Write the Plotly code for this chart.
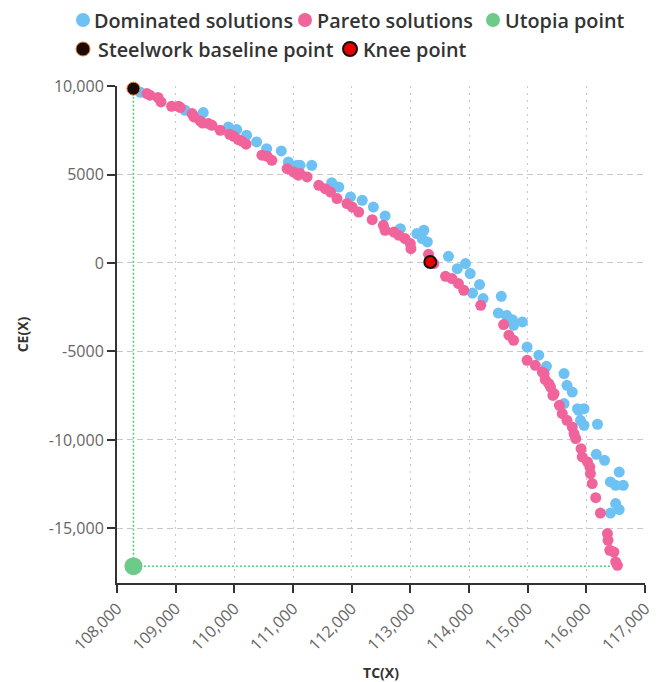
import plotly.graph_objects as go

# ---- data ----
dominated_tc = [108400, 109160, 109470, 109360, 109900, 110040, 110210, 110380, 110550, 110800,
                110920, 111070, 111120, 111320, 111660, 111780, 111980, 112180, 112370, 112570,
                112830, 113110, 113230, 113290, 113200, 113650, 113800, 113940, 114020, 114180,
                114060, 114240, 114550, 114500, 114640, 114740, 114910, 114760, 114990, 115190,
                115320, 115620, 115670, 115760, 115850, 115620, 115870, 115960, 115900, 115960,
                116190, 116170, 116310, 116560, 116410, 116500, 116630, 116500, 116560, 116410]
dominated_ce = [9640, 8630, 8500, 8220, 7680, 7540, 7220, 6840, 6460, 6330,
                5710, 5520, 5520, 5520, 4540, 4290, 3730, 3540, 3160, 2660,
                1940, 1660, 1850, 1190, 1380, 380, -320, -30, -600, -1220,
                -1700, -2010, -1880, -2830, -2960, -3200, -3330, -3520, -4750, -5210,
                -5840, -6250, -6910, -7290, -8230, -7940, -8320, -8230, -8890, -9170,
                -9110, -10810, -11150, -11810, -12370, -12560, -12560, -13590, -13930, -14130]

pareto_tc = [108510, 108560, 108700, 108750, 108930, 109050, 109080, 109280, 109310, 109420,
             109460, 109560, 109620, 109760, 109920, 109990, 110070, 110130, 110200, 110470,
             110560, 110640, 110900, 111010, 111090, 111120, 111240, 111440, 111550, 111640,
             111750, 111920, 112010, 112120, 112350, 112540, 112570, 112720, 112800, 112910,
             113000, 113010, 113310, 113400, 113600, 113710, 113820, 113910, 114200, 114590,
             114680, 114760, 114990, 115130, 115250, 115280, 115300, 115360, 115390, 115450,
             115430, 115540, 115590, 115670, 115760, 115790, 115820, 115910, 115930, 116020,
             116060, 116070, 116100, 116160, 116240, 116360, 116370, 116400, 116470, 116500,
             116530]
pareto_ce = [9570, 9480, 9350, 9100, 8850, 8850, 8780, 8440, 8250, 8020,
             7910, 7880, 7780, 7500, 7270, 7160, 6970, 6880, 6710, 6090,
             6030, 5800, 5330, 5140, 4960, 5050, 4860, 4390, 4200, 4010,
             3640, 3360, 3160, 2880, 2450, 2130, 1850, 1750, 1570, 1380,
             1100, 810, 490, -30, -750, -880, -1160, -1540, -2390, -3480,
             -4080, -4370, -5500, -5780, -6160, -6250, -6590, -6810, -7010, -7380,
             -7480, -8040, -8510, -8890, -9270, -9640, -9920, -10490, -10960, -11240,
             -11530, -11900, -12460, -13260, -14130, -15290, -15670, -16230, -16330, -16890,
             -17080]

utopia_tc = [108280]
utopia_ce = [-17130]
baseline_tc = [108280]
baseline_ce = [9850]
knee_tc = [113340]
knee_ce = [60]

x_ticks = [108000, 109000, 110000, 111000, 112000, 113000, 114000, 115000, 116000, 117000]
x_tick_text = ["108,000", "109,000", "110,000", "111,000", "112,000", "113,000",
               "114,000", "115,000", "116,000", "117,000"]
y_ticks = [10000, 5000, 0, -5000, -10000, -15000]
y_tick_text = ["10,000", "5000", "0", "-5000", "-10,000", "-15,000"]

series_names = ["Dominated solutions", "Pareto solutions", "Utopia point",
                "Steelwork baseline point", "Knee point"]

FONT = "Open Sans"
C_DOM = "#6ec1f3"
C_PAR = "#f0649b"
C_UTO = "#6dcb8a"
C_BASE = "#1e0900"
C_BASE_LINE = "#d9823c"
C_KNEE = "#e80000"

# page body has an 8px margin; size the figure so it fits the 662x682 window
OFF = 8
W, H = 662 - OFF, 682 - OFF
ML, MT = 117 - OFF, 86 - OFF
PW, PH = 528, 497
MR = W - ML - PW
MB = H - MT - PH

fig = go.Figure()

# guide lines baseline -> utopia -> max TC
fig.add_trace(go.Scatter(
    x=[baseline_tc[0], utopia_tc[0], max(pareto_tc)],
    y=[baseline_ce[0], utopia_ce[0], utopia_ce[0]],
    mode="lines", line=dict(color="#5cc878", width=1.6, dash="2px,2px"),
    showlegend=False, hoverinfo="skip"))

fig.add_trace(go.Scatter(
    x=dominated_tc, y=dominated_ce, mode="markers", name=series_names[0],
    marker=dict(color=C_DOM, size=11)))
fig.add_trace(go.Scatter(
    x=pareto_tc, y=pareto_ce, mode="markers", name=series_names[1],
    marker=dict(color=C_PAR, size=11)))
fig.add_trace(go.Scatter(
    x=utopia_tc, y=utopia_ce, mode="markers", name=series_names[2],
    marker=dict(color=C_UTO, size=18)))
fig.add_trace(go.Scatter(
    x=baseline_tc, y=baseline_ce, mode="markers", name=series_names[3],
    marker=dict(color=C_BASE, size=13, line=dict(color=C_BASE_LINE, width=1))))
fig.add_trace(go.Scatter(
    x=knee_tc, y=knee_ce, mode="markers", name=series_names[4],
    marker=dict(color=C_KNEE, size=12, line=dict(color="#111111", width=2))))

fig.update_traces(cliponaxis=False, showlegend=False)

# ---- custom two-row legend (window pixel positions -> paper coords) ----
def px_x(px):
    return (px - OFF - ML) / PW

def px_y(py):
    return (MT + PH - (py - OFF)) / PH

legend_items = [
    # (marker cx, text x, y, color, line color, line width)
    (83, 92, 20, C_DOM, None, 0),
    (305, 315, 20, C_PAR, None, 0),
    (493, 503, 20, C_UTO, None, 0),
    (83, 96, 49, C_BASE, C_BASE_LINE, 1),
    (350, 361, 49, C_KNEE, "#111111", 2),
]
shapes = []
annotations = []
for name, (cx, tx, cy, col, lcol, lw) in zip(series_names, legend_items):
    r = 7
    shapes.append(dict(
        type="circle", xref="paper", yref="paper",
        xsizemode="pixel", ysizemode="pixel",
        xanchor=px_x(cx), yanchor=px_y(cy),
        x0=-r, x1=r, y0=-r, y1=r,
        fillcolor=col, line=dict(color=lcol if lcol else col, width=lw if lw else 0),
        layer="above"))
    annotations.append(dict(
        text=name, xref="paper", yref="paper", x=px_x(tx), y=px_y(cy + 1),
        xanchor="left", yanchor="middle", showarrow=False,
        font=dict(family=FONT, size=19.8, color="#333", weight=600)))

fig.update_layout(
    width=W, height=H,
    margin=dict(l=ML, r=MR, t=MT, b=MB, autoexpand=False),
    paper_bgcolor="white", plot_bgcolor="white",
    font=dict(family=FONT, color="#333"),
    showlegend=False,
    shapes=shapes, annotations=annotations,
)

fig.update_xaxes(
    range=[108000, 117000], tickvals=x_ticks, ticktext=x_tick_text, tickangle=-45,
    showline=True, linecolor="#333", linewidth=2, ticks="outside", ticklen=8,
    tickcolor="#333", tickwidth=2,
    showgrid=True, gridcolor="#c8c8c8", griddash="2px,5px", gridwidth=1, zeroline=False,
    tickfont=dict(size=16, color="#666", family=FONT),
    title=dict(text="<b>TC(X)</b>", font=dict(size=14, color="#333", family=FONT), standoff=20),
)
fig.update_yaxes(
    range=[-18080, 10000], tickvals=y_ticks, ticktext=y_tick_text,
    showline=True, linecolor="#333", linewidth=2, ticks="outside", ticklen=8,
    tickcolor="#333", tickwidth=2,
    showgrid=True, gridcolor="#c8c8c8", griddash="6px,4px", gridwidth=1, zeroline=False,
    tickfont=dict(size=16, color="#666", family=FONT),
    title=dict(text="<b>CE(X)</b>", font=dict(size=14, color="#333", family=FONT), standoff=17),
)

fig.write_html("out.html")
